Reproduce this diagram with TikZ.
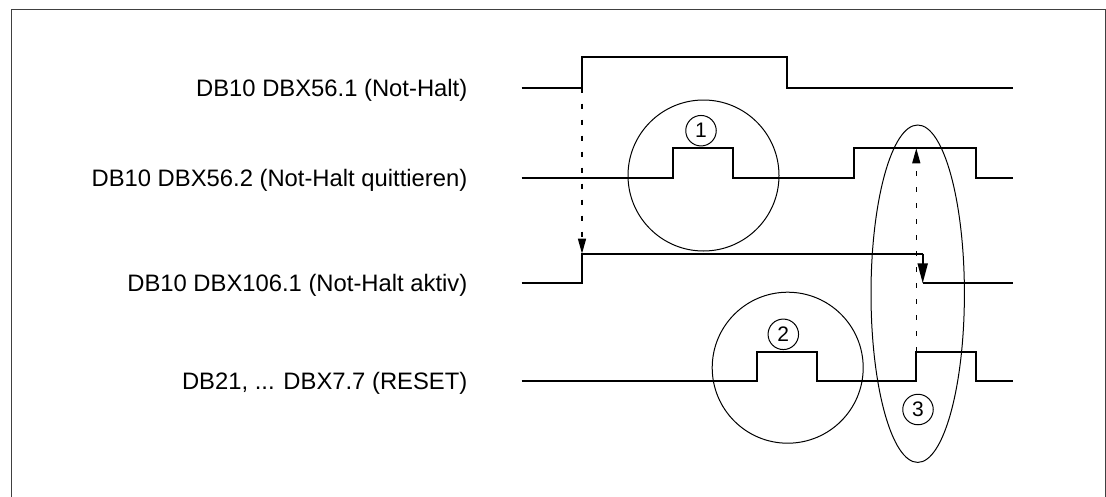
\documentclass[tikz,border=0pt]{standalone}
\usepackage{fontspec}
\setmainfont{Liberation Sans}
\usetikzlibrary{arrows.meta}
\begin{document}
\begin{tikzpicture}[x=1pt,y=-1pt,
  sig/.style={line width=2pt, line join=miter},
  sigtxt/.style={anchor=base east, inner sep=0pt, font=\fontsize{23.8}{28}\selectfont},
  ring/.style={draw, line width=1pt, circle, minimum size=30.5pt, inner sep=0pt, font=\fontsize{21}{24}\selectfont},
  mark circ/.style={line width=1pt},
  dasharrow/.style={line width=1.3pt, dash pattern=on 5pt off 11pt, -{Triangle[length=15pt,width=8pt]}},
]
\useasboundingbox (0,0) rectangle (1106,496);
\clip (0,0) rectangle (1106,496);
% frame
\draw[line width=1pt, black!75] (11,505) -- (11,9.5) -- (1105.3,9.5) -- (1105.3,505);

% labels
\node[sigtxt] (t1) at (467.5,96) {DB10 DBX56.1 (Not-Halt)};
\node[sigtxt] (t2) at (467.5,186) {DB10 DBX56.2 (Not-Halt quittieren)};
\node[sigtxt] (t3) at (467.5,291.8) {DB10 DBX106.1 (Not-Halt aktiv)};
\node[sigtxt] (t4) at (467.5,389.5) {DB21, ... DBX7.7 (RESET)};

% row 1
\coordinate (r1a) at (582,87.5);
\draw[sig] (521.7,87.5) -- (r1a) -- (582,56.7) -- (787,56.7) -- (787,87.5) -- (1013,87.5);
% row 2
\coordinate (r2b) at (916.3,148.3);
\draw[sig] (521.7,177.5) -- (673,177.5) -- (673,148.3) -- (733,148.3) -- (733,177.5)
  -- (854,177.5) -- (854,148.3) -- (975.5,148.3) -- (975.5,177.5) -- (1013,177.5);
% row 3
\coordinate (r3a) at (582,253.7);
\coordinate (r3f) at (922.7,253.7);
\coordinate (r3g) at (922.7,283.3);
\draw[sig] (521.7,283.3) -- (582,283.3) -- (r3a) -- (r3f);
\draw[sig, -{Triangle[length=20pt,width=10pt]}] (r3f) -- (r3g);
\draw[sig] (922.7,283.3) -- (1013,283.3);
% row 4
\coordinate (r4b) at (916.3,351.7);
\draw[sig] (521.7,381) -- (756.7,381) -- (756.7,351.7) -- (816.7,351.7) -- (816.7,381)
  -- (915.7,381) -- (915.7,351.7) -- (975.7,351.7) -- (975.7,381) -- (1013,381);

% dashed arrows
\draw[dasharrow] (r1a) -- (r3a);
\draw[dasharrow] (r4b) -- (r2b);

% marking circles
\draw[mark circ] (703.5,175.5) circle[radius=75.5];
\draw[mark circ] (787.7,367.7) circle[radius=75.5];
\draw[mark circ] (917.7,293.7) ellipse[x radius=46.7, y radius=168.7];

% number rings
\node[ring, fill=white] (n1) at (701,130.7) {1};
\node[ring] (n2) at (783.3,334.3) {2};
\node[ring] (n3) at (918,409.5) {3};
\end{tikzpicture}
\end{document}
